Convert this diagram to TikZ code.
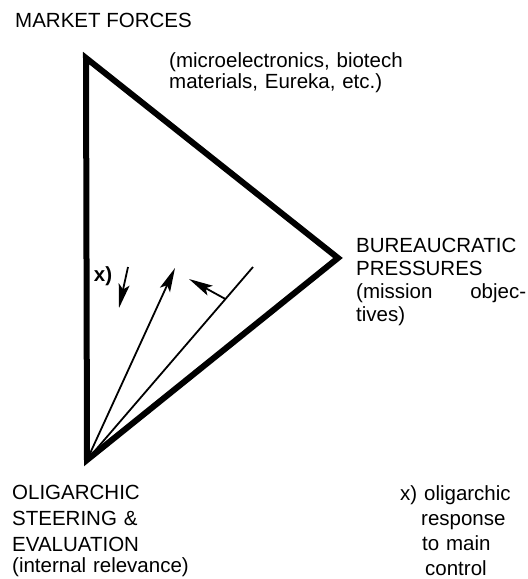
\documentclass[tikz,border=0pt]{standalone}
\usepackage{fontspec}
\setmainfont{Liberation Sans}
\usetikzlibrary{arrows.meta,calc}
\tikzset{
  lab/.style={font=\fontsize{20.5}{24}\selectfont,inner sep=0pt,anchor=base west,align=left},
  side/.style={line width=6pt,line join=miter},
  ray/.style={line width=1.8pt},
  arr/.style={ray,-{Stealth[length=24pt,width=11pt,inset=5pt]}},
}

\begin{document}
\begin{tikzpicture}[x=1pt,y=-1pt]
\useasboundingbox (0,0) rectangle (528,579);
% corners of the triangle
\coordinate (mkt) at (86,58);
\coordinate (bur) at (338,258);
\coordinate (oli) at (87,460);
\draw[side] (mkt) -- (bur) -- (oli) -- cycle;
% rays from the oligarchic corner
\coordinate (rtip) at (175,268);
\coordinate (rend) at (253,267);
\draw[arr] (oli) -- (rtip);
\draw[ray] (oli) -- (rend);
\coordinate (pfoot) at ($(oli)!0.834!(rend)$);
\coordinate (ptip) at (189,279);
\draw[arr] (pfoot) -- (ptip);
% oligarchic response
\coordinate (xfrom) at (128,267);
\coordinate (xto) at (119,308);
\draw[arr] (xfrom) -- (xto);
\node[lab,anchor=center,font=\fontsize{20.5}{24}\selectfont\bfseries] (xmark) at (103,276) {x)};
% labels
\node[lab] (market) at (15,27) {MARKET FORCES};
\node[lab,text width=260pt,font=\fontsize{20.5}{21}\selectfont] (fields) at (169,67) {(microelectronics, biotech\\materials, Eureka, etc.)};
\node[lab,text width=170pt,font=\fontsize{20.5}{23}\selectfont] (bureau) at (356,252) {BUREAUCRATIC\\PRESSURES\\(mission\hfill objec-\\tives)};
\node[lab,text width=220pt,font=\fontsize{20.5}{26}\selectfont] (steer) at (12,499) {OLIGARCHIC\\STEERING \&\\EVALUATION\\[-5pt](internal relevance)};
\node[lab,text width=125pt,font=\fontsize{20.5}{25}\selectfont] (note) at (400,500) {x) oligarchic\\\hspace*{21pt}response\\\hspace*{22pt}to main\\\hspace*{25pt}control};
\end{tikzpicture}
\end{document}
